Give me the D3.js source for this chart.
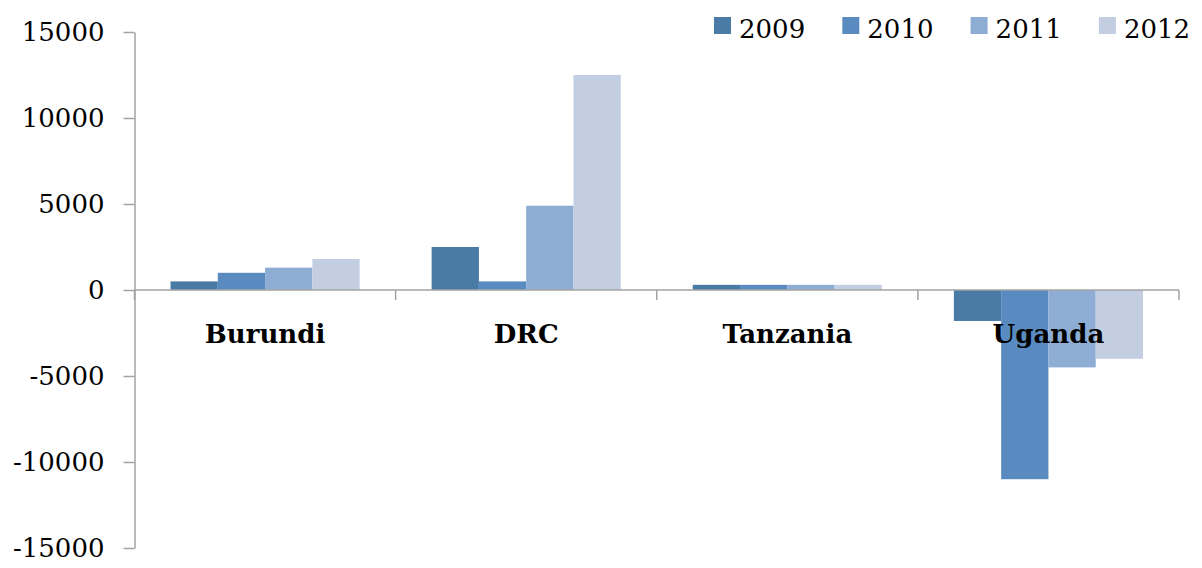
<!DOCTYPE html>
<html>
<head>
<meta charset="utf-8">
<script src="https://cdn.jsdelivr.net/npm/d3@7"></script>
<style>
    body { margin: 0; background: #fff; }
    text { font-family: "DejaVu Serif", serif; }
</style>
</head>
<body>
<div id="chart"></div>
<script>
const countries = ["Burundi", "DRC", "Tanzania", "Uganda"];
const years = ["2009", "2010", "2011", "2012"];
const values2009 = [500, 2500, 300, -1800];
const values2010 = [1000, 500, 300, -11000];
const values2011 = [1300, 4900, 300, -4500];
const values2012 = [1800, 12500, 300, -4000];
const yTicks = [-15000, -10000, -5000, 0, 5000, 10000, 15000];
const colors = ["#4a7aa6", "#5a8bc0", "#8eadd4", "#c3cee2"];

const seriesValues = [values2009, values2010, values2011, values2012];

const width = 1202;
const height = 568;

const svg = d3.select("#chart")
    .append("svg")
    .attr("width", width)
    .attr("height", height);

const x0 = d3.scaleBand().domain(countries).range([134.5, 1179]);
const x1 = d3.scaleBand().domain(years).range([36, x0.bandwidth() - 36]);
const y = d3.scaleLinear().domain([-15000, 15000]).range([548, 32]);

const axisColor = "#a3a3a3";

// y axis (plain hyphen for negatives, like the original)
const yAxis = svg.append("g")
    .attr("transform", "translate(134.5,0)")
    .call(d3.axisLeft(y).tickValues(yTicks).tickFormat(d => String(d))
        .tickSize(11).tickSizeOuter(0).tickPadding(19));
yAxis.select(".domain").attr("stroke", axisColor).attr("stroke-width", 1.5);
yAxis.selectAll(".tick line").attr("stroke", axisColor).attr("stroke-width", 1.5);
yAxis.selectAll(".tick text")
    .attr("font-size", 26)
    .attr("font-family", "DejaVu Serif, serif")
    .attr("fill", "#000");

// bars
const groups = svg.append("g")
    .selectAll("g")
    .data(countries)
    .join("g")
    .attr("transform", d => `translate(${x0(d)},0)`);

groups.selectAll("rect")
    .data((c, i) => years.map((yr, j) => ({ year: yr, value: seriesValues[j][i], color: colors[j] })))
    .join("rect")
    .attr("x", d => x1(d.year))
    .attr("width", x1.bandwidth())
    .attr("y", d => y(Math.max(0, d.value)))
    .attr("height", d => Math.abs(y(d.value) - y(0)))
    .attr("fill", d => d.color);

// x axis at zero
const xAxis = svg.append("g").attr("transform", `translate(0,${y(0)})`);
xAxis.append("line")
    .attr("x1", 134.5).attr("x2", 1179)
    .attr("stroke", axisColor).attr("stroke-width", 1.5);
xAxis.selectAll("line.tick")
    .data(countries.map(c => x0(c) + x0.bandwidth()).concat([134.5]))
    .join("line")
    .attr("class", "tick")
    .attr("x1", d => d).attr("x2", d => d)
    .attr("y1", 0).attr("y2", 10)
    .attr("stroke", axisColor).attr("stroke-width", 1.5);

// category labels
svg.append("g")
    .selectAll("text")
    .data(countries)
    .join("text")
    .attr("x", d => x0(d) + x0.bandwidth() / 2)
    .attr("y", 343)
    .attr("text-anchor", "middle")
    .attr("font-size", 26)
    .attr("font-weight", "bold")
    .attr("fill", "#000")
    .text(d => d);

// legend
const legend = svg.append("g")
    .selectAll("g")
    .data(years)
    .join("g")
    .attr("transform", (d, i) => `translate(${714 + i * 128.3},0)`);

legend.append("rect")
    .attr("x", 0).attr("y", 17)
    .attr("width", 17).attr("height", 17)
    .attr("fill", (d, i) => colors[i]);

legend.append("text")
    .attr("x", 25).attr("y", 38)
    .attr("font-size", 26)
    .attr("fill", "#000")
    .text(d => d);
</script>
</body>
</html>
